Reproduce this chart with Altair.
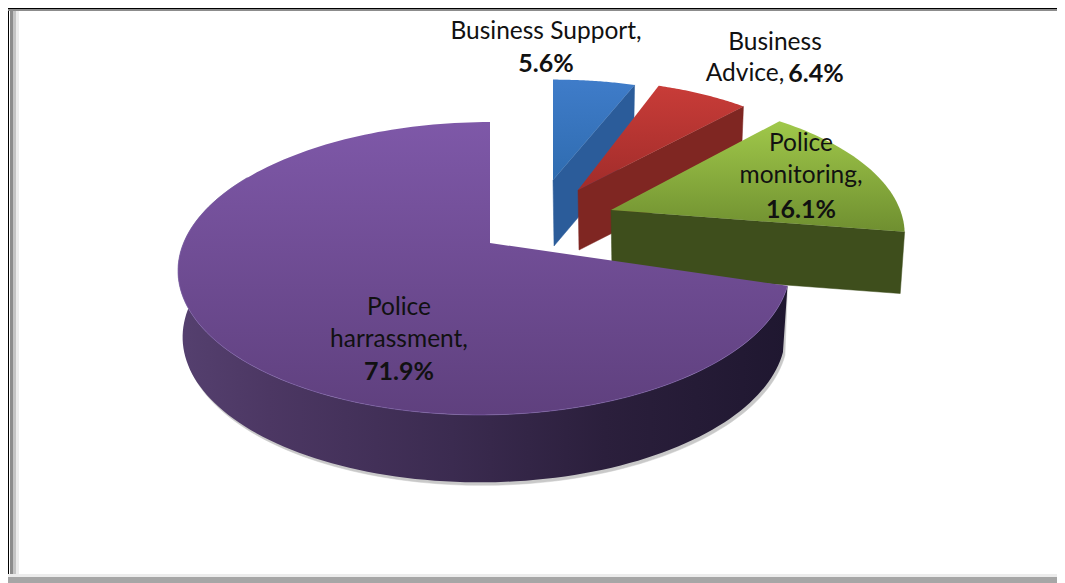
import math
import altair as alt
import pandas as pd

# ---- chart values ----
categories = ["Business Support", "Business Advice", "Police monitoring", "Police harrassment"]
shares = [5.6, 6.4, 16.1, 71.9]

# ---- drawing parameters (pixel frame of the picture) ----
X_DOM = [8, 1057]
Y_DOM = [583, 8]
A, B, K = 306.0, 142.0, 0.174     # perspective of the pie
THICK = [66, 60, 62, 66]
THICK_FRONT = [0, 0, 0, 4]
APEX = [(553, 180), (578, 190), (611, 210), (490, 243)]
SX = [0.90, 0.89, 0.945, 0.985]
SY = [0.83, 0.91, 0.94, 1.0]
SKEW = [0, 0, 0, 5]
ANG_SHIFT_START = [0, 0, -2, 5.5]
ANG_SHIFT_END = [0, 0, -2, 0]
TOP_FILL = [("#3f7cc9", "#2f6cb0"), ("#c83c38", "#a12c2a"), ("#a0c84a", "#6f8f30"), ("#7e58a8", "#5f407e")]
WALL_FILL = ["#2b5c9a", "#7f2622", "#3e4e1c"]

def pt(i, deg, scale=1.0, lower=False):
    t = math.radians(deg)
    u, v = math.sin(t), math.cos(t)
    w = 1 + K * v
    ax, ay = APEX[i]
    dy = (THICK[i] + THICK_FRONT[i] * (-v)) if lower else 0
    return (ax + scale * SX[i] * A * u / w - SKEW[i] * (1 - v),
            ay + dy - scale * SY[i] * B * v / w)

def frame(points):
    return pd.DataFrame({"x": [p[0] for p in points], "y": [p[1] for p in points], "i": range(len(points))})

X = alt.X("x:Q", scale=alt.Scale(domain=X_DOM, nice=False, zero=False), axis=None)
Y = alt.Y("y:Q", scale=alt.Scale(domain=Y_DOM, nice=False, zero=False), axis=None)

def poly(points, fill, **kw):
    stroke = fill if isinstance(fill, str) else "transparent"
    return alt.Chart(frame(points)).mark_line(
        interpolate="linear-closed", fill=fill, strokeWidth=0.5, stroke=stroke, **kw
    ).encode(x=X, y=Y, order=alt.Order("i:Q"))

def vgrad(c0, c1):
    return alt.Gradient(gradient="linear", x1=0, y1=0, x2=0, y2=1,
                        stops=[alt.GradientStop(color=c0, offset=0), alt.GradientStop(color=c1, offset=1)])

layers = []

# frame
rect_x = [8, 10, 13, 16, 8, 8, 8, 8]
rect_x2 = [9, 13, 16, 19, 1057, 1057, 1057, 1057]
rect_y = [8, 9, 11, 11, 8, 9, 577, 574]
rect_y2 = [583, 583, 577, 577, 9, 11, 583, 577]
rect_c = ["#000000", "#8c8c8c", "#c4c4c4", "#ececec", "#000000", "#8c8c8c", "#a6a6a6", "#ececec"]
layers.append(alt.Chart(pd.DataFrame({"x": rect_x, "x2": rect_x2, "y": rect_y, "y2": rect_y2, "c": rect_c}))
              .mark_rect().encode(x=X, x2="x2:Q", y=Y, y2="y2:Q", color=alt.Color("c:N", scale=None)))

# pie slices
start = 0.0
bounds = []
for s in shares:
    bounds.append((start, start + s * 3.6))
    start += s * 3.6

for i in range(3):
    a0 = bounds[i][0] + ANG_SHIFT_START[i]
    a1 = bounds[i][1] + ANG_SHIFT_END[i]
    ax, ay = APEX[i]
    e = pt(i, a1)
    e2 = pt(i, a1, 0.985, True)
    layers.append(poly([(ax, ay), e, e2, (ax + 1, ay + THICK[i])], WALL_FILL[i]))
    arc = [pt(i, a0 + (a1 - a0) * j / 40) for j in range(41)]
    layers.append(poly([(ax, ay)] + arc, vgrad(*TOP_FILL[i])))

# purple slice: soft shadow, wall, top, light rim
i = 3
a0 = bounds[3][0] + ANG_SHIFT_START[3]
a1 = bounds[3][1]
n = 120
sweep = [a0 + (300 - a0) * j / n for j in range(n + 1)]
front = [pt(i, a) for a in sweep]
back = [pt(i, a, 0.985, True) for a in sweep]
shadow = [(p[0] + 2, p[1] + 3) for p in back]
layers.append(poly(front + shadow[::-1], "#8a8a8a", opacity=0.45))
side_grad = alt.Gradient(gradient="linear", x1=1, y1=0, x2=0, y2=0, stops=[
    alt.GradientStop(color="#1f1730", offset=0),
    alt.GradientStop(color="#2b1f3c", offset=0.3),
    alt.GradientStop(color="#3b2b50", offset=0.55),
    alt.GradientStop(color="#4c3763", offset=0.85),
    alt.GradientStop(color="#55406f", offset=1),
])
layers.append(poly(front + back[::-1], side_grad))
arc = [pt(i, a0 + (a1 - a0) * j / 160) for j in range(161)]
layers.append(poly([APEX[i]] + arc, vgrad(*TOP_FILL[3])))
layers.append(alt.Chart(frame(front)).mark_line(color="#8468b0", strokeWidth=1, opacity=0.6).encode(
    x=X, y=Y, order=alt.Order("i:Q")))

# labels
label_text = ["Business Support,", "5.6%", "Business", "Advice,", "6.4%", "Police", "monitoring,", "16.1%",
              "Police", "harrassment,", "71.9%"]
label_x = [546, 546, 775, 745, 816, 801, 801, 801, 399, 399, 399]
label_y = [32, 64, 43, 74, 74, 144, 176, 210, 308, 340, 372]
label_bold = [0, 1, 0, 0, 1, 0, 0, 1, 0, 0, 1]
ldf = pd.DataFrame({"x": label_x, "y": label_y, "t": label_text, "b": label_bold})
for flag, weight, size in ((0, "normal", 24.5), (1, "bold", 25)):
    layers.append(alt.Chart(ldf[ldf.b == flag]).mark_text(
        font="Lato", fontSize=size, fontWeight=weight, color="#111111", align="center", baseline="middle"
    ).encode(x=X, y=Y, text="t:N"))

chart = alt.layer(*layers).properties(
    width=1049, height=575, padding=0, autosize=alt.AutoSizeParams(type="none"),
    background="#ffffff"
).configure_view(stroke=None)

chart.save("out.html", embed_options={"renderer": "svg", "actions": False})
